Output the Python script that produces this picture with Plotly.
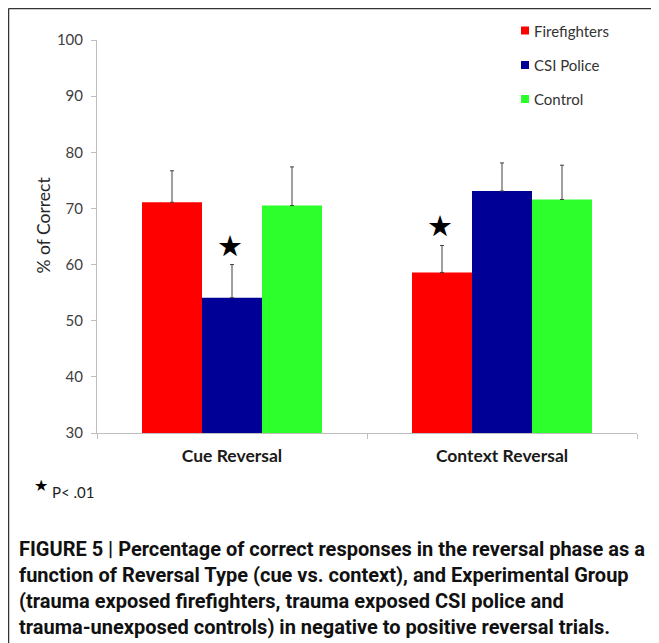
import plotly.graph_objects as go

categories = ["Cue Reversal", "Context Reversal"]
groups = ["Firefighters", "CSI Police", "Control"]
firefighters = [71.1, 58.6]
firefighters_err = [5.6, 4.8]
csi_police = [54.1, 73.1]
csi_police_err = [5.9, 5.0]
control = [70.5, 71.6]
control_err = [6.9, 6.1]
y_ticks = [30, 40, 50, 60, 70, 80, 90, 100]

colors = ["#ff0000", "#000096", "#2dff2d"]
series = [(firefighters, firefighters_err), (csi_police, csi_police_err), (control, control_err)]

OFF = 8  # page body margin
W, H = 659 - OFF, 643 - OFF
# plot area in reference-picture pixels
L, R, T, B = 97, 637, 40, 433


def px(x):
    return (x - L) / (R - L)


def py(y):
    return (B - y) / (B - T)


fig = go.Figure()
for i, (name, (vals, errs)) in enumerate(zip(groups, series)):
    fig.add_trace(go.Bar(
        x=categories, y=vals, name=name,
        marker=dict(color=colors[i], line=dict(width=0)),
        error_y=dict(type="data", symmetric=False, array=errs,
                     arrayminus=[0] * len(errs), color="#404040",
                     thickness=1, width=2),
        showlegend=False,
    ))

# significance stars (P < .01): CSI Police in cue reversal, Firefighters in context reversal
group_w = 2 / 3
bar_w = group_w / 3
star_marks = [(0, 1, csi_police[0] + csi_police_err[0]),
              (1, 0, firefighters[1] + firefighters_err[1])]
for cat_idx, grp_idx, top in star_marks:
    xc = cat_idx - group_w / 2 + bar_w * (grp_idx + 0.5)
    fig.add_annotation(x=xc, y=top, xref="x", yref="y", text="★",
                       showarrow=False, yanchor="bottom", yshift=0, xshift=-2,
                       font=dict(size=29, color="black", family="DejaVu Sans"))

fig.update_layout(
    width=W, height=H,
    margin=dict(l=L - OFF, r=W - (R - OFF), t=T - OFF, b=H - (B - OFF), autoexpand=False),
    paper_bgcolor="white", plot_bgcolor="white",
    barmode="group", bargap=1 / 3, bargroupgap=0,
    font=dict(family="Lato", color="#404040"),
    showlegend=False,
    xaxis=dict(showline=True, linecolor="#bfbfbf", linewidth=1,
               ticks="outside", tickson="boundaries", ticklen=5, tickcolor="#bfbfbf",
               tickfont=dict(size=17.5, color="#1a1a1a", family="Lato", weight="bold"),
               ticklabelstandoff=7,
               showgrid=False, zeroline=False),
    yaxis=dict(range=[30, 100], tickvals=y_ticks, showline=True, linecolor="#bfbfbf",
               linewidth=1, ticks="outside", ticklen=5, tickcolor="#bfbfbf",
               ticklabelstandoff=5,
               tickfont=dict(size=15, color="#404040"), showgrid=False, zeroline=False),
)

# y-axis title
fig.add_annotation(x=px(42.5), y=py(225), xref="paper", yref="paper", text="% of Correct",
                   showarrow=False, textangle=-90, xanchor="center", yanchor="middle",
                   font=dict(size=17.5, color="#262626", family="Lato"))

# legend (drawn by hand to match the small swatches)
legend_y = [30.5, 65, 99]
for i, name in enumerate(groups):
    yc = legend_y[i]
    fig.add_shape(type="rect", xref="paper", yref="paper",
                  x0=px(521), x1=px(529), y0=py(yc + 4), y1=py(yc - 4),
                  fillcolor=colors[i], line=dict(width=0))
    fig.add_annotation(x=px(532), y=py(yc), xref="paper", yref="paper", text=name,
                       showarrow=False, xanchor="left", yanchor="middle",
                       font=dict(size=15, color="#333333", family="Lato"))

# significance note
fig.add_annotation(x=px(40.5), y=py(485), xref="paper", yref="paper", text="★",
                   showarrow=False, xanchor="center", yanchor="middle",
                   font=dict(size=16, color="black", family="DejaVu Sans"))
fig.add_annotation(x=px(50), y=py(492), xref="paper", yref="paper", text="P< .01",
                   showarrow=False, xanchor="left", yanchor="middle",
                   font=dict(size=15, color="#222222", family="Lato"))

caption_lines = [
    "FIGURE 5 | Percentage of correct responses in the reversal phase as a",
    "function of Reversal Type (cue vs. context), and Experimental Group",
    "(trauma exposed firefighters, trauma exposed CSI police and",
    "trauma-unexposed controls) in negative to positive reversal trials.",
]
caption_y = [549, 575, 601, 627]
for line, yc in zip(caption_lines, caption_y):
    fig.add_annotation(x=px(17), y=py(yc), xref="paper", yref="paper", text="<b>" + line + "</b>",
                       showarrow=False, xanchor="left", yanchor="middle", align="left",
                       font=dict(size=20, color="#111111", family="Roboto"))

# frame (left and top edges)
fig.add_shape(type="line", xref="paper", yref="paper", x0=px(8.5), x1=px(8.5), y0=py(660), y1=py(8.5),
              line=dict(color="#333333", width=1.5))
fig.add_shape(type="line", xref="paper", yref="paper", x0=px(8.5), x1=px(680), y0=py(8.5), y1=py(8.5),
              line=dict(color="#333333", width=1.5))

fig.write_html("out.html")
